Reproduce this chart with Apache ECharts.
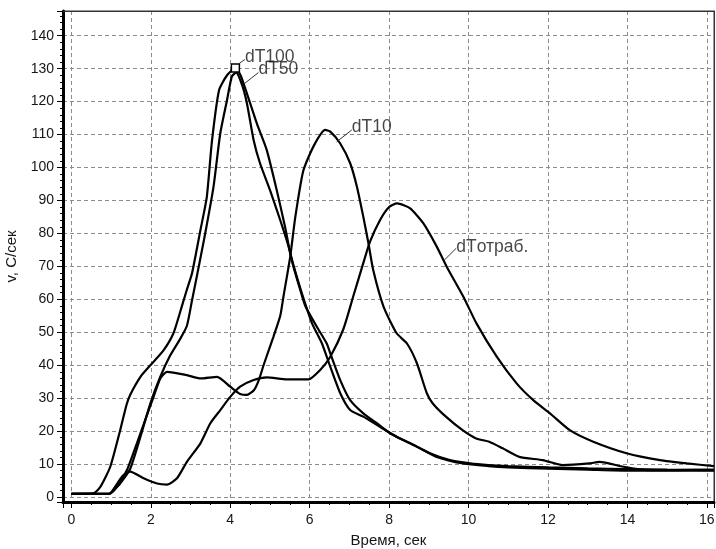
<!DOCTYPE html>
<html>
<head>
<meta charset="utf-8">
<title>dT</title>
<script src="https://cdn.jsdelivr.net/npm/echarts@6/dist/echarts.min.js"></script>
<style>
  html, body { margin: 0; padding: 0; background: #fff; }
  #chart { width: 716px; height: 549px; }
</style>
</head>
<body>
<div id="chart"></div>
<script>
// [time, sec ; v, C/sec]
const dT100 = [
  [0, 1], [0.55, 1.1], [0.73, 3.1], [0.98, 9.2], [1.23, 20.3], [1.39, 28], [1.48, 31], [1.74, 36.5],
  [1.99, 40], [2.32, 44.5], [2.57, 49.7], [2.78, 57.8], [2.91, 63], [3.04, 68], [3.25, 81],
  [3.41, 91], [3.54, 108], [3.72, 123.5], [3.92, 128], [4.13, 130.2], [4.26, 128], [4.42, 122.5],
  [4.67, 113.4], [4.92, 105.3], [5.17, 93.2], [5.38, 82], [5.51, 74], [5.59, 70], [5.76, 63],
  [5.89, 58], [6.18, 51.7], [6.43, 46.6], [6.52, 43.6], [6.77, 35.5], [7.02, 29.4], [7.35, 25.4],
  [7.69, 22.4], [8.03, 19.3], [8.53, 16.3], [9.03, 13.3], [9.53, 11.2], [10.04, 10.2], [10.5, 9.7],
  [11, 9.4], [12, 9], [13, 8.7], [14, 8.5], [15, 8.3], [16.18, 8.2]
];
const dT50 = [
  [0, 1], [0.95, 1], [1.15, 3.1], [1.23, 4.1], [1.48, 8.5], [1.74, 18.3], [1.99, 28.4], [2.24, 36.5],
  [2.49, 43], [2.74, 48], [2.91, 52], [3.04, 59.8], [3.16, 67], [3.37, 80], [3.58, 94.2],
  [3.75, 110.4], [3.92, 120.5], [4.04, 127.6], [4.15, 128.8], [4.3, 125], [4.42, 119.5],
  [4.59, 108.3], [4.75, 101.3], [5.0, 93.2], [5.26, 84], [5.47, 76], [5.6, 70], [5.8, 62],
  [6.06, 52.7], [6.31, 46.6], [6.52, 39.5], [6.77, 31.5], [7.02, 26.4], [7.35, 24.4], [7.77, 21.3],
  [8.19, 18.3], [8.7, 15.3], [9.2, 12.2], [9.86, 10.2], [10.5, 9.4], [11, 9], [12, 8.6], [13, 8.3],
  [14, 8], [15, 8], [16.18, 8]
];
const dT10 = [
  [0, 1], [0.95, 1], [1.15, 3.1], [1.4, 8.2], [1.65, 16.3], [1.86, 23.4], [2.07, 30.4], [2.24, 36],
  [2.41, 38], [2.91, 37], [3.25, 36], [3.67, 36.5], [4.0, 33.5], [4.25, 31.3], [4.42, 31],
  [4.6, 32.5], [4.72, 35.5], [4.84, 40], [5.0, 45.6], [5.09, 48.7], [5.26, 55], [5.34, 60.8],
  [5.51, 72.9], [5.64, 85.1], [5.84, 99], [6.1, 106.5], [6.39, 111.4], [6.52, 110.9],
  [6.77, 107.3], [7.02, 101.3], [7.19, 94.2], [7.35, 85.1], [7.48, 77], [7.6, 68.9], [7.86, 57.8],
  [8.19, 49.7], [8.45, 46.6], [8.7, 40.6], [8.95, 31.5], [9.1, 28.4], [9.43, 24.4], [9.85, 20.3],
  [10.19, 17.8], [10.52, 16.8], [10.86, 14.8], [11.28, 12.2], [11.87, 11.2], [12.37, 9.7],
  [13.04, 10.2], [13.3, 10.7], [13.9, 9.2], [14.5, 8.2], [15.2, 8.2], [16.18, 8.3]
];
const dTotrab = [
  [0, 1], [0.95, 1], [1.15, 4], [1.3, 6.5], [1.48, 7.7], [1.82, 5.7], [2.16, 4.1], [2.41, 3.8],
  [2.66, 5.7], [2.91, 10.7], [3.25, 16.3], [3.5, 22.4], [3.75, 26.4], [4.0, 30.4], [4.25, 33.5],
  [4.59, 35.5], [4.92, 36.3], [5.43, 35.7], [5.97, 35.7], [6.26, 38.5], [6.52, 42.6], [6.85, 51],
  [7.1, 61], [7.35, 71], [7.52, 77.5], [7.77, 84], [8.0, 88], [8.2, 89.1], [8.53, 87.6],
  [8.86, 83.1], [9.2, 76], [9.45, 69.9], [9.87, 60.8], [10.2, 52.7], [10.71, 42.6], [11.21, 34.5],
  [11.63, 29.4], [12.05, 25.4], [12.55, 20.3], [13.14, 16.8], [13.98, 13.3], [14.82, 11.2],
  [15.5, 10.2], [16.18, 9.4]
];

const curveNames = ["dT100", "dT50", "dT10", "dTотраб."];
const curves = [dT100, dT50, dT10, dTotrab];
const labelAnchors = [[4.37, 133.4], [4.71, 129.7], [7.06, 112.1], [9.69, 75.7]];
const leaderLines = [
  [[4.23, 131.6], [4.37, 132.8]],
  [[4.37, 125.6], [4.71, 128.8]],
  [[6.68, 107.8], [7.06, 111.4]],
  [[9.39, 71.9], [9.69, 75.5]]
];
const peakMarker = [4.13, 130.2];

const font = "'Liberation Sans', Arial, sans-serif";
const textColor = "#161616";
const gridDash = { color: "#8c8c8c", type: [4, 3], width: 1 };

const chart = echarts.init(document.getElementById("chart"));

const lineSeries = curves.map((data, i) => ({
  type: "line",
  name: curveNames[i],
  data,
  symbol: "none",
  smooth: 0.2,
  lineStyle: { color: "#000", width: 2.2 },
  z: 3,
}));

lineSeries[0].markPoint = {
  silent: true,
  symbol: "rect",
  symbolSize: 8,
  itemStyle: { color: "#fff", borderColor: "#000", borderWidth: 1.5 },
  label: { show: false },
  data: [{ coord: peakMarker }],
};

const labelSeries = {
  type: "scatter",
  silent: true,
  symbolSize: 0,
  data: labelAnchors.map((p, i) => ({ value: p, name: curveNames[i] })),
  label: {
    show: true,
    position: "right",
    distance: 0,
    formatter: (p) => p.name,
    color: textColor,
    fontFamily: font,
    fontSize: 17.5,
  },
  markLine: {
    silent: true,
    symbol: "none",
    label: { show: false },
    lineStyle: { color: "#333", width: 1, type: "solid" },
    data: leaderLines.map((l) => [{ coord: l[0] }, { coord: l[1] }]),
  },
  z: 4,
};

chart.setOption({
  animation: false,
  backgroundColor: "#fff",
  grid: {
    left: 63, right: 2, top: 11, bottom: 47,
    containLabel: false,
    outerBoundsMode: "none",
    show: true, borderColor: "#333", borderWidth: 1, backgroundColor: "transparent",
  },
  xAxis: [
    {
      type: "value",
      min: -0.21,
      max: 16.18,
      splitNumber: 8,
      name: "Время, сек",
      nameLocation: "middle",
      nameGap: 31,
      nameTextStyle: { color: textColor, fontFamily: font, fontSize: 15 },
      axisLine: { onZero: false, lineStyle: { color: "#000", width: 3 } },
      axisTick: { length: 6, lineStyle: { color: "#000", width: 1 } },
      minorTick: { show: true, splitNumber: 4, length: 3, lineStyle: { color: "#000" } },
      axisLabel: {
        margin: 11, color: textColor, fontFamily: font, fontSize: 14,
        showMinLabel: false, showMaxLabel: false,
      },
      splitLine: { show: true, lineStyle: gridDash },
    },
    {
      type: "value", position: "top", min: -0.21, max: 16.18,
      axisLine: { show: true, onZero: false, lineStyle: { color: "#333", width: 1 } },
      axisTick: { show: false }, axisLabel: { show: false }, splitLine: { show: false },
    },
  ],
  yAxis: [
    {
      type: "value",
      min: -1.5,
      max: 147.5,
      splitNumber: 15,
      name: "v, C/сек",
      nameLocation: "middle",
      nameGap: 42,
      nameTextStyle: { color: textColor, fontFamily: font, fontSize: 15 },
      axisLine: { show: true, onZero: false, lineStyle: { color: "#000", width: 3 } },
      axisTick: { show: true, length: 6, lineStyle: { color: "#000", width: 1 } },
      minorTick: { show: true, splitNumber: 5, length: 3, lineStyle: { color: "#000" } },
      axisLabel: {
        margin: 9, color: textColor, fontFamily: font, fontSize: 14,
        showMinLabel: false, showMaxLabel: false,
      },
      splitLine: { show: true, lineStyle: gridDash },
    },
    {
      type: "value", position: "right", min: -1.5, max: 147.5,
      axisLine: { show: true, onZero: false, lineStyle: { color: "#333", width: 1 } },
      axisTick: { show: false }, axisLabel: { show: false }, splitLine: { show: false },
    },
  ],
  series: [...lineSeries, labelSeries],
});
</script>
</body>
</html>
